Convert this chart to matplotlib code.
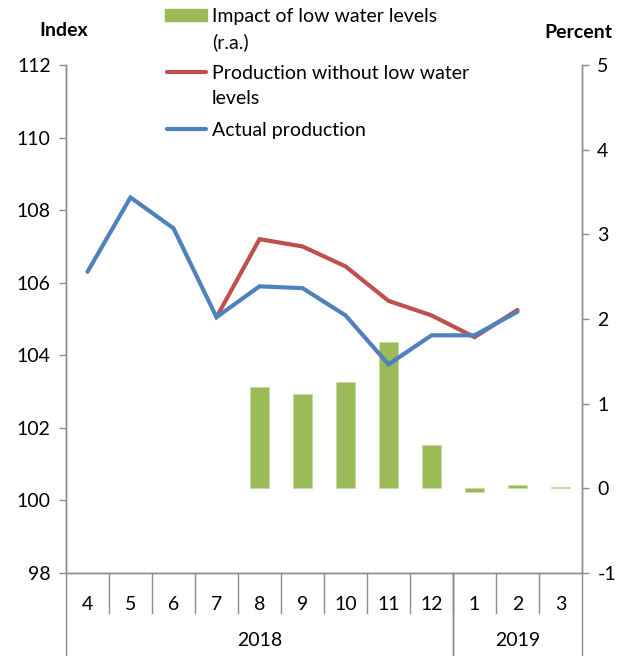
"""
Industrial production and the impact of low water levels, 2018-2019.
Index on the left axis, percent impact (bars) on the right axis.
"""

import numpy as np
import matplotlib
matplotlib.use("Agg")
import matplotlib.pyplot as plt
from matplotlib.lines import Line2D
from matplotlib.patches import Rectangle

plt.rcParams["font.family"] = ["Lato", "DejaVu Sans"]
plt.rcParams["axes.unicode_minus"] = False

# ---------------------------------------------------------------------------
# Data
# ---------------------------------------------------------------------------
months = ["4", "5", "6", "7", "8", "9", "10", "11", "12", "1", "2", "3"]
years = ["2018", "2019"]
year_spans = [(0, 9), (9, 12)]  # category index range covered by each year

actual = [106.3, 108.35, 107.5, 105.05, 105.9, 105.85, 105.1, 103.75,
          104.55, 104.55, 105.2, np.nan]
no_low_water = [np.nan, np.nan, np.nan, 105.05, 107.2, 107.0, 106.45, 105.5,
                105.1, 104.5, 105.25, np.nan]
impact = [np.nan, np.nan, np.nan, np.nan, 1.20, 1.11, 1.26, 1.73,
          0.51, -0.04, 0.035, 0.02]

GREEN = "#9BBB59"
RED = "#C0504D"
BLUE = "#4F81BD"
GREY = "#8C8C8C"
FS = 14

# ---------------------------------------------------------------------------
# Figure
# ---------------------------------------------------------------------------
W, H = 623, 656
fig = plt.figure(figsize=(W / 100, H / 100), dpi=100)
ax = fig.add_axes([66 / W, 1 - 573 / H, (582 - 66) / W, (573 - 65) / H])
ax2 = ax.twinx()
ax.set_zorder(ax2.get_zorder() + 1)
ax.patch.set_visible(False)

x = np.arange(len(months)) + 0.5

ax2.bar(x, impact, width=0.42, color=GREEN, edgecolor="#C9DBA3", linewidth=0.6)
ax.plot(x, no_low_water, color=RED, linewidth=3.0, solid_capstyle="round",
        solid_joinstyle="miter")
ax.plot(x, actual, color=BLUE, linewidth=3.0, solid_capstyle="round",
        solid_joinstyle="miter")

ax.set_xlim(0, len(months))
ax.set_ylim(98, 112)
ax.set_yticks(np.arange(98, 113, 2))
ax2.set_ylim(-1, 5)
ax2.set_yticks(np.arange(-1, 6, 1))

for a in (ax, ax2):
    for s in a.spines.values():
        s.set_color(GREY)
        s.set_linewidth(1.0)
    a.spines["top"].set_visible(False)
    a.tick_params(axis="y", direction="out", length=5, width=1.0, color=GREY,
                  labelsize=FS, pad=6)
    a.set_xticks([])

# category axis: month separators, year group lines, labels
trans = ax.get_xaxis_transform()
short = (573 - 613) / (573 - 65)
long_ = (573 - 660) / (573 - 65)
for i in range(1, len(months)):
    ax.plot([i, i], [0, short], color=GREY, lw=1.0, transform=trans, clip_on=False)
for start, end in year_spans:
    for b in (start, end):
        ax.plot([b, b], [0, long_], color=GREY, lw=1.0, transform=trans, clip_on=False)
for xi, m in zip(x, months):
    ax.text(xi, (573 - 605) / 508, m, transform=trans, ha="center", va="center",
            fontsize=FS)
for (start, end), yr in zip(year_spans, years):
    ax.text((start + end) / 2, (573 - 641) / 508, yr, transform=trans,
            ha="center", va="center", fontsize=FS)

# axis titles
fig.text(64 / W, 1 - 30 / H, "Index", ha="center", va="center",
         fontsize=FS, fontweight="bold")
fig.text(578 / W, 1 - 32 / H, "Percent", ha="center", va="center",
         fontsize=FS, fontweight="bold")

# legend, drawn by hand so handles line up with the first text line
fig.add_artist(Rectangle((165 / W, 1 - 21 / H), 42 / W, 12 / H,
                         transform=fig.transFigure, color=GREEN))
fig.add_artist(Line2D([167 / W, 206 / W], [1 - 72 / H] * 2, color=RED, lw=3.0,
                      solid_capstyle="round", transform=fig.transFigure))
fig.add_artist(Line2D([167 / W, 206 / W], [1 - 129 / H] * 2, color=BLUE, lw=3.0,
                      solid_capstyle="round", transform=fig.transFigure))
legend_texts = [("Impact of low water levels\n(r.a.)", 15),
                ("Production without low water\nlevels", 72),
                ("Actual production", 129)]
for label, yline in legend_texts:
    # place the first line's centre at yline
    fig.text(212 / W, 1 - (yline - 7) / H, label, ha="left", va="top",
             fontsize=FS, linespacing=1.58, transform=fig.transFigure)

plt.savefig("out.png", dpi=100)
